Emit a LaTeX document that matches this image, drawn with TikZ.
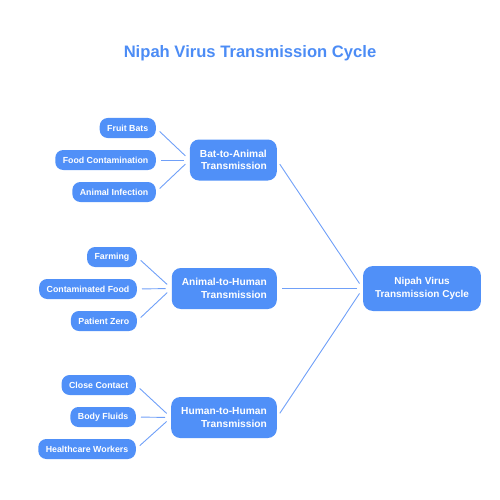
\documentclass[tikz,border=0pt]{standalone}
\usepackage{fontspec}
\setmainfont{Liberation Sans}
\usetikzlibrary{positioning, calc}
\definecolor{nb}{RGB}{80,144,248}
\definecolor{ln}{RGB}{112,160,248}
\definecolor{tt}{RGB}{76,140,245}

\begin{document}
\begin{tikzpicture}[x=1pt, y=-1pt,
    leaf/.style={fill=nb, text=white, rounded corners=8pt, minimum height=20pt, inner xsep=7.5pt, inner ysep=0pt, anchor=east, font=\fontsize{8.8}{10}\selectfont\bfseries},
    mid/.style={fill=nb, text=white, rounded corners=9pt, minimum height=41pt, inner xsep=10pt, inner ysep=0pt, anchor=east, align=right, font=\fontsize{10.2}{12.5}\selectfont\bfseries},
    hub/.style={fill=nb, text=white, rounded corners=10pt, minimum height=45pt, inner xsep=12pt, inner ysep=0pt, align=center, font=\fontsize{10}{12.5}\selectfont\bfseries},
    link/.style={ln, line width=0.9pt, shorten <=5pt, shorten >=6pt}]
			% Page frame
			\useasboundingbox (0,0) rectangle (500,500);

			% Title
			\node[anchor=base, text=tt, font=\fontsize{16.6}{20}\selectfont\bfseries] (title) at (250,58) {Nipah Virus Transmission Cycle};

			% Hub
			\node[hub] (hub) at (422,288.5) {Nipah Virus\\Transmission Cycle};

			% Stage nodes
			\node[mid] (bat) at (277,160) {Bat-to-Animal\\Transmission};
			\node[mid] (anim) at (277,288.5) {Animal-to-Human\\Transmission};
			\node[mid] (hum) at (277,417.5) {Human-to-Human\\Transmission};

			% Bat-to-Animal leaves
			\node[leaf] (bats) at (156,128) {Fruit Bats};
			\node[leaf] (foodc) at (156,160) {Food Contamination};
			\node[leaf] (ainf) at (156,192) {Animal Infection};

			% Animal-to-Human leaves
			\node[leaf] (farm) at (137,257) {Farming};
			\node[leaf] (cfood) at (137,289) {Contaminated Food};
			\node[leaf] (pzero) at (137,321) {Patient Zero};

			% Human-to-Human leaves
			\node[leaf] (close) at (136,385) {Close Contact};
			\node[leaf] (fluid) at (136,417) {Body Fluids};
			\node[leaf] (hcw) at (136,449) {Healthcare Workers};

			% Links
			\foreach \a in {bats, foodc, ainf} \draw[link] (\a.east) -- (bat.west);
			\foreach \a in {farm, cfood, pzero} \draw[link] (\a.east) -- (anim.west);
			\foreach \a in {close, fluid, hcw} \draw[link] (\a.east) -- (hum.west);
			\foreach \a in {bat, anim, hum} \draw[link] (\a.east) -- (hub.west);
		\end{tikzpicture}
\end{document}
